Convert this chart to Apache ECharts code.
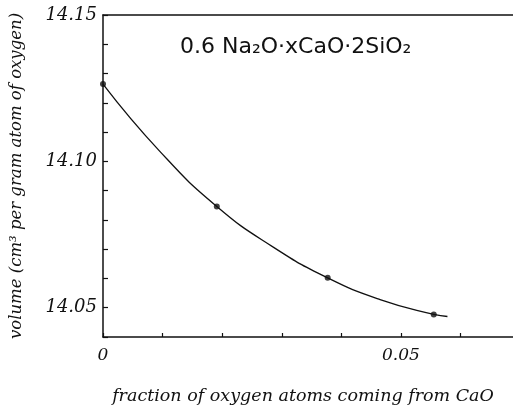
<!DOCTYPE html>
<html>
<head>
<meta charset="utf-8">
<script src="https://cdn.jsdelivr.net/npm/echarts@6/dist/echarts.min.js"></script>
<style>
  html, body { margin: 0; padding: 0; background: #fff; }
  #main { width: 513px; height: 407px; }
</style>
</head>
<body>
<div id="main"></div>
<script>
// measured points (fraction of O from CaO, volume)
var fracX = [0, 0.0191, 0.0377, 0.0555];
var volY = [14.1264, 14.0846, 14.0602, 14.0477];
// the drawn curve (ends a little past the last point)
var curveX = [0, 0.0095, 0.0191, 0.0285, 0.0377, 0.0465, 0.0555, 0.0578];
var curveY = [14.1264, 14.1035, 14.0846, 14.0708, 14.0602, 14.0528, 14.0477, 14.0470];
var yLabels = ['14.05', '14.10', '14.15'];
var xLabels = ['0', '0.05'];

var pts = [];
for (var i = 0; i < fracX.length; i++) pts.push([fracX[i], volY[i]]);
var line = [];
for (var j = 0; j < curveX.length; j++) line.push([curveX[j], curveY[j]]);

var txt = '#111';
var fnt = '"DejaVu Serif", serif';

var myChart = echarts.init(document.getElementById('main'));
var option = {
    backgroundColor: '#fff',
    animation: false,
    grid: { left: 103, top: 15, right: 0, bottom: 70, outerBoundsMode: 'none', containLabel: false },
    xAxis: [{
        type: 'value',
        min: 0, max: 0.0688, interval: 0.01,
        axisLine: { lineStyle: { color: txt, width: 1.5 } },
        axisTick: { inside: true, length: 4, lineStyle: { color: txt, width: 1.2 } },
        splitLine: { show: false },
        axisLabel: {
            color: txt, fontSize: 17, fontFamily: fnt, fontStyle: 'italic', margin: 10,
            showMaxLabel: false,
            formatter: function (v) {
                var s = String(Math.round(v * 100) / 100);
                return xLabels.indexOf(s) >= 0 ? s : '';
            }
        },
        name: 'fraction of oxygen atoms coming from CaO',
        nameLocation: 'middle', nameGap: 50,
        nameTextStyle: { color: txt, fontSize: 17.5, fontFamily: fnt, fontStyle: 'italic', padding: [0, 10, 0, 0] }
    }, {
        type: 'value', position: 'top',
        min: 0, max: 0.0688,
        axisLine: { lineStyle: { color: txt, width: 1.5 } },
        axisTick: { show: false }, axisLabel: { show: false }, splitLine: { show: false }
    }],
    yAxis: {
        type: 'value',
        min: 14.04, max: 14.15, interval: 0.01,
        axisLine: { lineStyle: { color: txt, width: 1.5 } },
        axisTick: { inside: true, length: 5, lineStyle: { color: txt, width: 1.2 } },
        splitLine: { show: false },
        axisLabel: {
            color: txt, fontSize: 18, fontFamily: fnt, fontStyle: 'italic', margin: 6,
            formatter: function (v) {
                var s = v.toFixed(2);
                return yLabels.indexOf(s) >= 0 ? s : '';
            }
        },
        name: 'volume (cm³ per gram atom of oxygen)',
        nameLocation: 'middle', nameGap: 78, nameRotate: 90,
        nameTextStyle: { color: txt, fontSize: 16.5, fontFamily: fnt, fontStyle: 'italic' }
    },
    series: [{
        type: 'line', data: line, smooth: true,
        symbol: 'none', lineStyle: { color: txt, width: 1.3 }, z: 2
    }, {
        type: 'scatter', data: pts, symbolSize: 6,
        itemStyle: { color: txt }, z: 3
    }],
    graphic: [{
        type: 'text', left: 180, top: 36,
        style: {
            text: '0.6 Na₂O·xCaO·2SiO₂',
            fill: txt, fontSize: 22, fontFamily: '"DejaVu Sans", sans-serif'
        }
    }]
};
myChart.setOption(option);
</script>
</body>
</html>
